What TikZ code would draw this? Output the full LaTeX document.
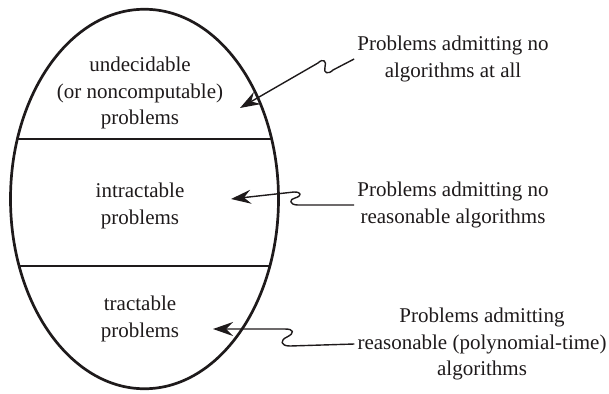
\documentclass[tikz,border=0pt]{standalone}
\usepackage{fontspec}
\setmainfont{Liberation Serif}
\usepackage{xcolor}
\usepackage{tikz}
\usetikzlibrary{shapes.geometric, arrows.meta}
\definecolor{ink}{RGB}{30,26,27}
\tikzset{
  region/.style={align=center, text=ink, inner sep=3pt,
    font=\fontsize{21}{26.5}\selectfont},
  note/.style={align=center, text=ink, inner sep=3pt,
    font=\fontsize{21}{26.5}\selectfont},
  divider/.style={draw=ink, line width=1.7pt},
  arrow/.style={-{Stealth[length=20pt, width=14pt, inset=7pt]}, draw=ink,
    line width=1.4pt, line join=round}
}

\begin{document}
\begin{tikzpicture}[x=1pt, y=-1pt]
  \useasboundingbox (0,0) rectangle (609,393);

  \node[ellipse, draw=ink, line width=2.7pt, minimum width=268pt,
    minimum height=379.5pt, inner sep=0pt] (universe) at (144.5,199) {};

  % Dividers
  \begin{scope}
    \clip (universe.center) ellipse (134pt and 189.7pt);
    \draw[divider] (0,139) -- (300,139);
    \draw[divider] (0,266) -- (300,266);
  \end{scope}

  \node[region] (undec) at (140,93) {undecidable\\(or noncomputable)\\problems};
  \node[region] (intract) at (140,206) {intractable\\problems};
  \node[region] (tract) at (140,319) {tractable\\problems};

  \node[note] (noalgo) at (453,59) {Problems admitting no\\algorithms at all};
  \node[note] (noreas) at (453,205) {Problems admitting no\\reasonable algorithms};
  \node[note] (polyt) at (482,344) {Problems admitting\\reasonable (polynomial-time)\\algorithms};

  \coordinate (tipA) at (240,108);
  \coordinate (tipB) at (231,199);
  \coordinate (tipC) at (213,329);

  % Connections
  \draw[arrow] (noalgo.west) -- (333,70) .. controls (328,75) and (323,73) .. (325,67)
    .. controls (327,61) and (323,58) .. (318,63) -- (tipA);
  \draw[arrow] (noreas.west) -- (298,205) .. controls (289,205) and (289,199) .. (295,198)
    .. controls (302,196) and (302,192) .. (294,192) -- (tipB);
  \draw[arrow] (polyt.west) -- (290,346) .. controls (280,346) and (280,340) .. (287,337)
    .. controls (295,333) and (294,329) .. (285,329) -- (tipC);
\end{tikzpicture}
\end{document}
